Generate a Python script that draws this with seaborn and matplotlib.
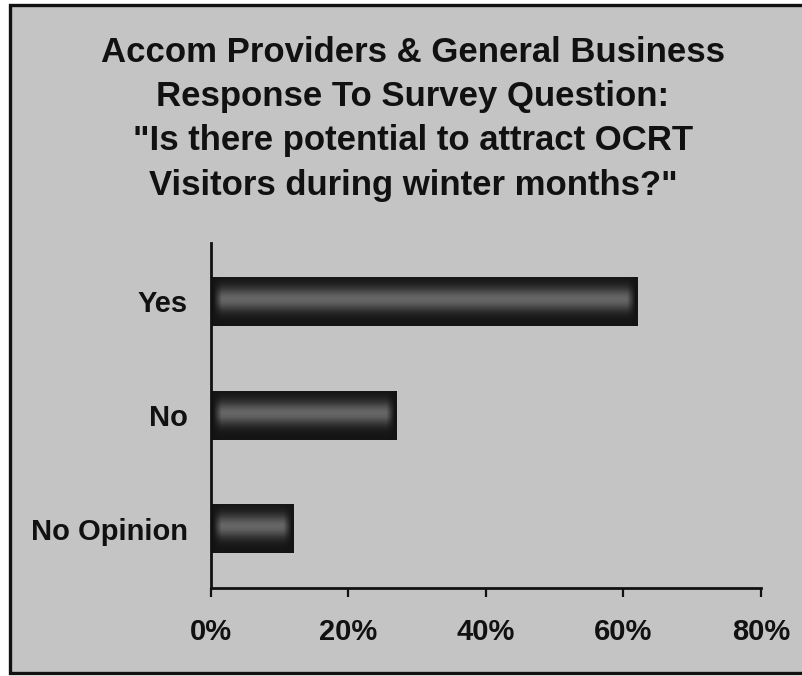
import numpy as np
import pandas as pd
import matplotlib
matplotlib.use("Agg")
import matplotlib.pyplot as plt
import seaborn as sns
from matplotlib.patches import Rectangle

# Survey answers (share of respondents, %)
categories = ["Yes", "No", "No Opinion"]
percent = [62, 27, 12]

# Axis ticks
tick_values = [0, 20, 40, 60, 80]
tick_labels = ["0%", "20%", "40%", "60%", "80%"]

title_lines = [
    "Accom Providers & General Business",
    "Response To Survey Question:",
    "\"Is there potential to attract OCRT",
    "Visitors during winter months?\"",
]

sns.set_theme(style="white")
plt.rcParams["font.family"] = ["Liberation Sans", "DejaVu Sans"]

W, H = 803, 676
fig = plt.figure(figsize=(W / 100, H / 100), dpi=100, facecolor="white")

# grey panel with a black frame behind everything
panel = Rectangle((10 / W, 3 / H), 1.2, 668 / H, transform=fig.transFigure,
                  facecolor="#c4c4c4", edgecolor="#111111", lw=2.4, zorder=0)
fig.add_artist(panel)

ax = fig.add_axes([211 / W, 1 - 588 / H, 550 / W, (588 - 243) / H])
ax.set_facecolor("none")

df = pd.DataFrame({"response": categories, "percent": percent})
sns.barplot(data=df, y="response", x="percent", orient="h", color="#141414",
            width=0.43, saturation=1, linewidth=0, edgecolor="#141414", ax=ax)

# shaded cylinder look inside each bar
for patch in ax.patches:
    x0, y0 = patch.get_x(), patch.get_y()
    w, h = patch.get_width(), patch.get_height()
    xs = np.linspace(x0, x0 + w, 400)
    ts = np.linspace(0, 1, 60)
    edge = np.clip(np.minimum(xs - x0 - 0.3, x0 + w - xs - 0.3) / 1.2, 0, 1)
    prof = np.exp(-((ts - 0.45) / 0.24) ** 2)
    img = 0.08 + 0.32 * prof[:, None] * edge[None, :]
    im = ax.imshow(img, cmap="gray", vmin=0, vmax=1, origin="upper",
                   extent=(x0, x0 + w, y0 + h, y0), aspect="auto",
                   interpolation="bilinear", zorder=patch.get_zorder() + 0.1)
    im.set_clip_path(patch)

ax.set_xlim(0, 80)
ax.set_ylim(2.52, -0.513)

sns.despine(ax=ax)
for side in ("left", "bottom"):
    ax.spines[side].set_color("#111111")
    ax.spines[side].set_linewidth(2)

ax.set_xticks(tick_values)
ax.set_xticklabels(tick_labels, fontweight="bold", fontsize=21, color="#111111")
ax.tick_params(axis="x", direction="out", length=6.5, width=1.6,
               color="#111111", pad=15, bottom=True)
ax.set_yticks(range(len(categories)))
ax.set_yticklabels(categories, fontweight="bold", fontsize=21, color="#111111")
ax.tick_params(axis="y", length=0, pad=16.5)
ax.set_xlabel("")
ax.set_ylabel("")
ax.grid(False)

baselines = [62, 106, 150, 195]
for line, base in zip(title_lines, baselines):
    fig.text(413 / W, 1 - base / H, line, ha="center", va="baseline",
             fontsize=25, fontweight="bold", color="#111111")

fig.savefig("out.png", dpi=100)
